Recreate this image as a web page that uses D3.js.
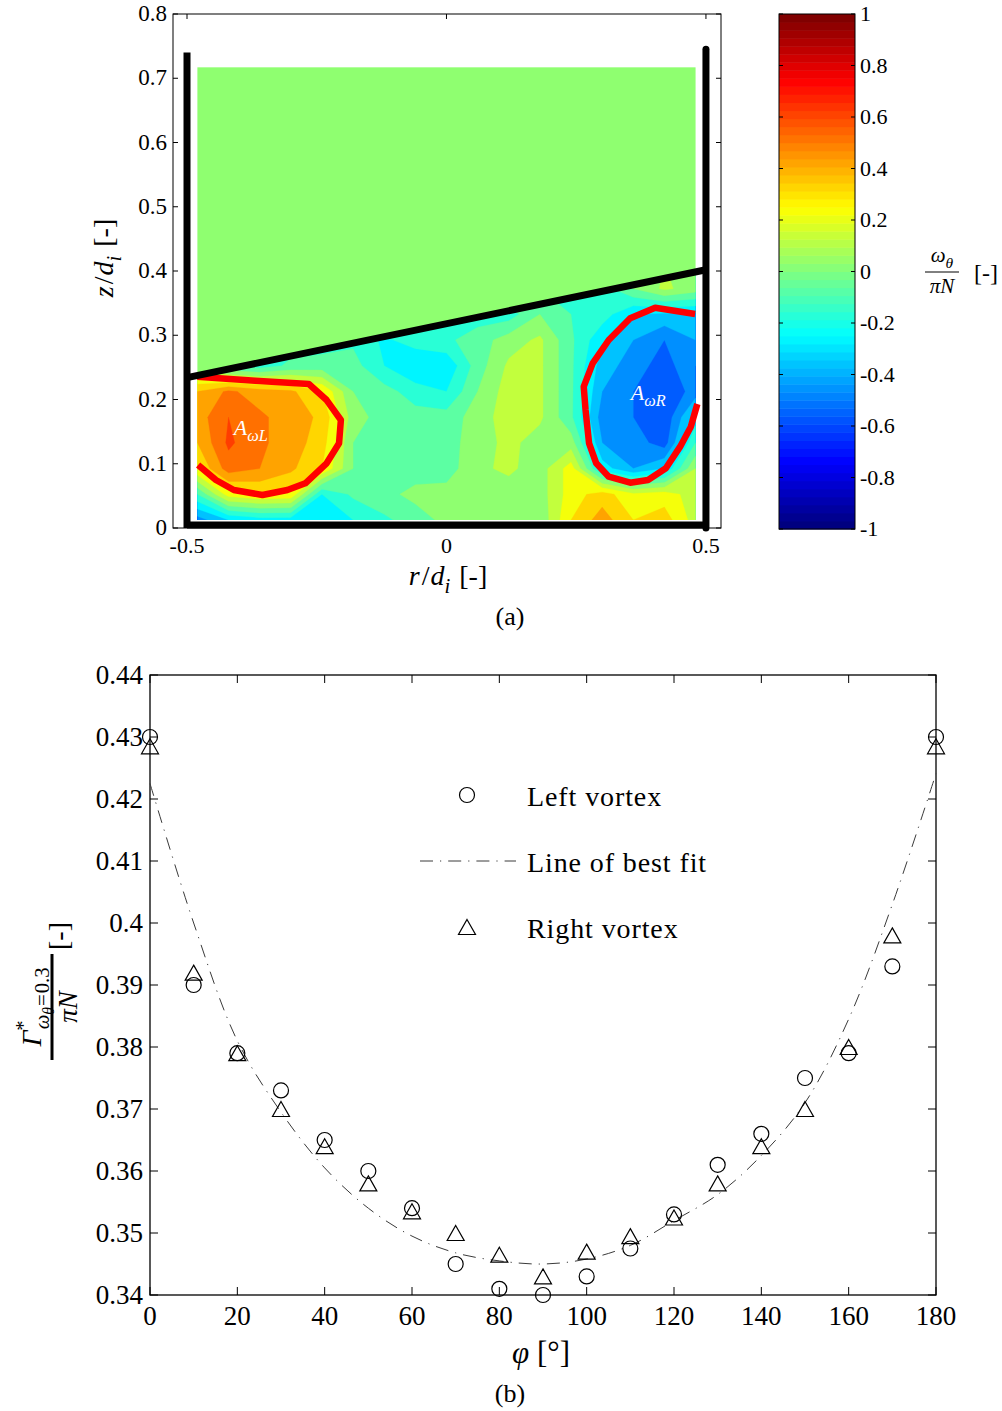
<!DOCTYPE html>
<html><head><meta charset="utf-8">
<script src="https://cdn.jsdelivr.net/npm/d3@7"></script>
<style>
body{margin:0;background:#fff}
text{font-family:"Liberation Serif","Times New Roman",serif;fill:#000}
</style>
</head><body>
<svg id="c" width="1002" height="1411"></svg>
<script>
// ================= DATA =================
// (a) vorticity field omega_theta/(pi N), rows = zGrid (bottom→top), columns = rGrid
const rGrid = [-0.48,-0.42,-0.36,-0.30,-0.24,-0.18,-0.12,-0.06,0,0.06,0.12,0.18,0.24,0.30,0.36,0.42,0.48];
const zGrid = [0.0125,0.0525,0.0925,0.1325,0.1725,0.2125,0.2525,0.2925,0.3325,0.3725,0.4125];
const vortRow0  = [-0.45,-0.3,-0.25,-0.25,-0.3,-0.2,-0.12,-0.05,0.03,0.04,0.03,0.02,0.3,0.45,0.3,0.35,0.15];
const vortRow1  = [-0.1,0.25,0.3,0.28,-0.2,-0.08,-0.03,0.03,0.04,0.04,0.05,0.05,0.25,0.35,0.22,0.25,0.15];
const vortRow2  = [0.3,0.55,0.5,0.42,0.3,0.0,-0.05,-0.05,-0.05,0.08,0.12,0.05,0.25,-0.25,-0.4,-0.3,0.1];
const vortRow3  = [0.4,0.62,0.52,0.45,0.35,0.0,-0.05,-0.06,-0.04,0.05,0.13,0.05,0.05,-0.4,-0.45,-0.55,-0.1];
const vortRow4  = [0.45,0.6,0.52,0.45,0.38,0.05,-0.05,-0.06,-0.06,0.05,0.15,0.12,-0.08,-0.45,-0.5,-0.58,-0.25];
const vortRow5  = [0.4,0.52,0.45,0.42,0.3,0.0,-0.06,-0.15,-0.2,0.0,0.15,0.12,-0.08,-0.4,-0.5,-0.6,-0.45];
const vortRow6  = [0.05,-0.12,-0.15,-0.08,-0.06,-0.06,-0.2,-0.3,-0.28,-0.05,0.12,0.12,-0.08,-0.35,-0.45,-0.55,-0.4];
const vortRow7  = [0.05,0.05,-0.1,-0.15,-0.15,-0.12,-0.22,-0.15,-0.12,-0.05,0.05,0.12,-0.08,-0.28,-0.4,-0.5,-0.4];
const vortRow8  = [0.05,0.05,0.05,0.05,0.05,0.05,0.05,-0.1,-0.15,-0.15,-0.15,0.0,-0.1,-0.15,-0.3,-0.32,-0.32];
const vortRow9  = [0.05,0.05,0.05,0.05,0.05,0.05,0.05,0.05,0.05,0.05,0.05,-0.1,-0.15,-0.15,0.0,0.12,0.05];
const vortRow10 = [0.05,0.05,0.05,0.05,0.05,0.05,0.05,0.05,0.05,0.05,0.05,0.05,0.05,0.05,0.05,0.1,0.05];
const vortRows = [vortRow0,vortRow1,vortRow2,vortRow3,vortRow4,vortRow5,vortRow6,vortRow7,vortRow8,vortRow9,vortRow10];
const levelStep = 0.1;

// field extent, tank walls, interface (r/d_i, z/d_i)
const fieldR = [-0.48, 0.48];
const fieldZ = [0.0125, 0.717];
const wallTopL = 0.74, wallTopR = 0.745;
const interfaceZ = [0.234, 0.402];   // at r=-0.5 and r=0.5

// omega = ±0.3 contours (red lines)
const leftContourR  = [-0.480,-0.3686,-0.2653,-0.231,-0.2035,-0.207,-0.231,-0.272,-0.3066,-0.3547,-0.4098,-0.4443,-0.4786];
const leftContourZ  = [0.2355,0.2293,0.2241,0.1992,0.1681,0.1318,0.1007,0.0696,0.0591,0.0514,0.0591,0.0747,0.098];
const rightContourR = [0.4792,0.4021,0.354,0.3127,0.2817,0.2645,0.268,0.2748,0.2886,0.3127,0.354,0.3884,0.4227,0.4503,0.4709,0.4834];
const rightContourZ = [0.3331,0.3429,0.3264,0.2926,0.2563,0.2199,0.1837,0.1318,0.1007,0.0798,0.0705,0.0747,0.0929,0.1266,0.1577,0.193];

const topXTicks = [-0.5, 0, 0.5];
const topYTicks = [0,0.1,0.2,0.3,0.4,0.5,0.6,0.7,0.8];
const cbTicks = [-1,-0.8,-0.6,-0.4,-0.2,0,0.2,0.4,0.6,0.8,1];

// (b) circulation vs phi
const phi = [0,10,20,30,40,50,60,70,80,90,100,110,120,130,140,150,160,170,180];
const leftVortex  = [0.430,0.390,0.379,0.373,0.365,0.360,0.354,0.345,0.341,0.340,0.343,0.3475,0.353,0.361,0.366,0.375,0.379,0.393,0.430];
const rightVortex = [0.4285,0.392,0.379,0.370,0.364,0.358,0.3535,0.350,0.3465,0.343,0.347,0.3495,0.3525,0.358,0.364,0.370,0.380,0.398,0.4285];
const bestFit     = [0.4225,0.400,0.381,0.3695,0.3605,0.354,0.3495,0.3468,0.3455,0.345,0.3458,0.348,0.352,0.3562,0.3625,0.371,0.3845,0.403,0.4241];
const bXTicks = [0,20,40,60,80,100,120,140,160,180];
const bYTicks = [0.34,0.35,0.36,0.37,0.38,0.39,0.40,0.41,0.42,0.43,0.44];
const bYTickLabels = ["0.34","0.35","0.36","0.37","0.38","0.39","0.4","0.41","0.42","0.43","0.44"];
const legendLabels = ["Left vortex","Line of best fit","Right vortex"];

// ================= HELPERS =================
const svg = d3.select('#c');
const clamp = v => Math.max(0, Math.min(1, v));
const jet = t => d3.rgb(255*clamp(1.5-Math.abs(4*t-3)), 255*clamp(1.5-Math.abs(4*t-2)), 255*clamp(1.5-Math.abs(4*t-1))).formatHex();
const cNorm = d3.scaleLinear().domain([-1,1]).range([0,1]);

function rich(g, x, y, parts, size, anchor){
  const t = g.append('text').attr('x',x).attr('y',y).attr('font-size',size).attr('text-anchor',anchor||'start');
  let cur = 0;
  parts.forEach(p=>{
    const ts = t.append('tspan').text(p.t);
    if(p.i) ts.attr('font-style','italic');
    let target = 0, fs = size;
    if(p.sub){ target = size*0.28; fs = size*0.74; }
    if(p.sup){ target = -size*0.4; fs = size*0.74; }
    if(p.sub2){ target = size*0.45; fs = size*0.56; }
    ts.attr('font-size', fs).attr('dy', target-cur);
    if(p.dx) ts.attr('dx', p.dx);
    cur = target;
  });
  return t;
}

// ================= (a) CONTOUR PLOT =================
const xT = d3.scaleLinear().domain([-0.527,0.529]).range([173,721]);
const yT = d3.scaleLinear().domain([0,0.8]).range([528,14]);
const slope = d3.scaleLinear().domain([-0.5,0.5]).range(interfaceZ);
const gA = svg.append('g');

gA.append('rect').attr('x',xT(fieldR[0])).attr('y',yT(fieldZ[1]))
  .attr('width',xT(fieldR[1])-xT(fieldR[0])).attr('height',yT(fieldZ[0])-yT(fieldZ[1]))
  .attr('fill', jet(cNorm(0.03)));

const clipPts = [[fieldR[0],fieldZ[0]],[fieldR[1],fieldZ[0]],[fieldR[1],slope(fieldR[1])],[fieldR[0],slope(fieldR[0])]];
svg.append('defs').append('clipPath').attr('id','below')
  .append('polygon').attr('points', clipPts.map(p=>[xT(p[0]),yT(p[1])].join(',')).join(' '));

const n = rGrid.length, m = zGrid.length;
const dr = rGrid[1]-rGrid[0], dz = zGrid[1]-zGrid[0];
const values = vortRows.flat();
const thresholds = d3.range(-10,10).map(i=>i*levelStep);
const contours = d3.contours().size([n,m]).thresholds(thresholds)(values);
const proj = d3.geoTransform({point:function(x,y){
  this.stream.point(xT(rGrid[0]+(x-0.5)*dr), yT(zGrid[0]+(y-0.5)*dz));
}});
const cpath = d3.geoPath(proj);
gA.append('g').attr('clip-path','url(#below)').selectAll('path').data(contours).join('path')
  .attr('d', cpath).attr('fill', d=>jet(cNorm(d.value+0.03))).attr('stroke', d=>jet(cNorm(d.value+0.03))).attr('stroke-width',0.3);

const redLine = d3.line().x(d=>xT(d[0])).y(d=>yT(d[1])).curve(d3.curveLinear);
[[leftContourR,leftContourZ],[rightContourR,rightContourZ]].forEach(([R,Z])=>{
  gA.append('path').attr('d', redLine(d3.zip(R,Z))).attr('fill','none')
    .attr('stroke','#ff0000').attr('stroke-width',6.5).attr('stroke-linejoin','round');
});

const lblL = rich(gA, xT(-0.41), yT(0.145), [{t:'A',i:true},{t:'ωL',i:true,sub:true}], 22);
lblL.style('fill','#fff'); lblL.selectAll('tspan').style('fill','#fff');
const lblR = rich(gA, xT(0.355), yT(0.2), [{t:'A',i:true},{t:'ωR',i:true,sub:true}], 22);
lblR.style('fill','#fff'); lblR.selectAll('tspan').style('fill','#fff');

gA.append('line').attr('x1',xT(-0.5)).attr('x2',xT(-0.5)).attr('y1',yT(0)).attr('y2',yT(wallTopL))
  .attr('stroke','#000').attr('stroke-width',7);
gA.append('line').attr('x1',xT(0.5)).attr('x2',xT(0.5)).attr('y1',yT(0)).attr('y2',yT(wallTopR))
  .attr('stroke','#000').attr('stroke-width',7).attr('stroke-linecap','round');
gA.append('line').attr('x1',xT(-0.5)).attr('x2',xT(0.5)).attr('y1',yT(0.0045)).attr('y2',yT(0.0045))
  .attr('stroke','#000').attr('stroke-width',7);
gA.append('line').attr('x1',xT(-0.5)).attr('x2',xT(0.5)).attr('y1',yT(slope(-0.5))).attr('y2',yT(slope(0.5)))
  .attr('stroke','#000').attr('stroke-width',7);

gA.append('rect').attr('x',173).attr('y',14).attr('width',721-173).attr('height',528-14)
  .attr('fill','none').attr('stroke','#000').attr('stroke-width',1);
topXTicks.forEach(v=>{
  gA.append('line').attr('x1',xT(v)).attr('x2',xT(v)).attr('y1',528).attr('y2',523).attr('stroke','#000');
  gA.append('line').attr('x1',xT(v)).attr('x2',xT(v)).attr('y1',14).attr('y2',19).attr('stroke','#000');
  gA.append('text').attr('x',xT(v)).attr('y',553).attr('text-anchor','middle').attr('font-size',22).text(String(v));
});
topYTicks.forEach(v=>{
  gA.append('line').attr('x1',173).attr('x2',178).attr('y1',yT(v)).attr('y2',yT(v)).attr('stroke','#000');
  gA.append('line').attr('x1',721).attr('x2',716).attr('y1',yT(v)).attr('y2',yT(v)).attr('stroke','#000');
  gA.append('text').attr('x',167).attr('y',yT(v)+7).attr('text-anchor','end').attr('font-size',23).text(String(v));
});
rich(gA, 448, 585, [{t:'r',i:true},{t:'/',dx:2},{t:'d',i:true,dx:1},{t:'i',i:true,sub:true},{t:'[-]',dx:9}], 28, 'middle');
const zl = gA.append('g').attr('transform','translate(113,258) rotate(-90)');
rich(zl, 0, 0, [{t:'z',i:true},{t:'/',dx:2},{t:'d',i:true,dx:1},{t:'i',i:true,sub:true},{t:'[-]',dx:9}], 28, 'middle');
gA.append('text').attr('x',510).attr('y',625).attr('text-anchor','middle').attr('font-size',26).text('(a)');

// colorbar
const cbY = d3.scaleLinear().domain([-1,1]).range([529,14]);
const gC = svg.append('g');
const nCol = 64;
gC.selectAll('rect.cb').data(d3.range(nCol)).join('rect').attr('class','cb')
  .attr('x',779).attr('width',76)
  .attr('y',k=>cbY(-1+2*(k+1)/nCol)).attr('height',k=>cbY(-1+2*k/nCol)-cbY(-1+2*(k+1)/nCol)+0.5)
  .attr('fill',k=>jet(k/(nCol-1)));
gC.append('rect').attr('x',779).attr('y',14).attr('width',76).attr('height',515).attr('fill','none').attr('stroke','#000');
cbTicks.forEach(v=>{
  gC.append('line').attr('x1',779).attr('x2',783).attr('y1',cbY(v)).attr('y2',cbY(v)).attr('stroke','#000');
  gC.append('line').attr('x1',855).attr('x2',851).attr('y1',cbY(v)).attr('y2',cbY(v)).attr('stroke','#000');
  gC.append('text').attr('x',860).attr('y',cbY(v)+7).attr('font-size',22).text(String(v));
});
rich(gC, 942, 262, [{t:'ω',i:true},{t:'θ',i:true,sub:true}], 21, 'middle');
gC.append('line').attr('x1',925).attr('x2',959).attr('y1',272).attr('y2',272).attr('stroke','#000').attr('stroke-width',1);
rich(gC, 942, 293, [{t:'π',i:true},{t:'N',i:true}], 21, 'middle');
gC.append('text').attr('x',974).attr('y',281).attr('font-size',24).text('[-]');

// ================= (b) SCATTER =================
const xB = d3.scaleLinear().domain([0,180]).range([150,936]);
const yB = d3.scaleLinear().domain([0.34,0.44]).range([1295,675]);
const gB = svg.append('g');

gB.append('rect').attr('x',150).attr('y',675).attr('width',786).attr('height',620).attr('fill','none').attr('stroke','#000').attr('stroke-width',1.3);
bXTicks.forEach(v=>{
  gB.append('line').attr('x1',xB(v)).attr('x2',xB(v)).attr('y1',1295).attr('y2',1287).attr('stroke','#000');
  gB.append('line').attr('x1',xB(v)).attr('x2',xB(v)).attr('y1',675).attr('y2',683).attr('stroke','#000');
  gB.append('text').attr('x',xB(v)).attr('y',1325).attr('text-anchor','middle').attr('font-size',27).text(String(v));
});
bYTicks.forEach((v,i)=>{
  gB.append('line').attr('x1',150).attr('x2',158).attr('y1',yB(v)).attr('y2',yB(v)).attr('stroke','#000');
  gB.append('line').attr('x1',936).attr('x2',928).attr('y1',yB(v)).attr('y2',yB(v)).attr('stroke','#000');
  gB.append('text').attr('x',143).attr('y',yB(v)+9).attr('text-anchor','end').attr('font-size',27).text(bYTickLabels[i]);
});

const dashes = '13,7,1.2,7';
const fitLine = d3.line().x((d,i)=>xB(phi[i])).y(d=>yB(d)).curve(d3.curveCatmullRom);
gB.append('path').attr('d',fitLine(bestFit)).attr('fill','none').attr('stroke','#3a3a3a')
  .attr('stroke-width',1).attr('stroke-dasharray',dashes);

const triPath = 'M0,-7.5L8.5,7.5L-8.5,7.5Z';
gB.selectAll('circle.lv').data(leftVortex).join('circle').attr('class','lv')
  .attr('cx',(d,i)=>xB(phi[i])).attr('cy',d=>yB(d)).attr('r',7.5)
  .attr('fill','none').attr('stroke','#000').attr('stroke-width',1.2);
gB.selectAll('path.rv').data(rightVortex).join('path').attr('class','rv')
  .attr('transform',(d,i)=>`translate(${xB(phi[i])},${yB(d)})`).attr('d',triPath)
  .attr('fill','none').attr('stroke','#000').attr('stroke-width',1.2);

// legend
gB.append('circle').attr('cx',467).attr('cy',795).attr('r',7.5).attr('fill','none').attr('stroke','#000').attr('stroke-width',1.2);
gB.append('line').attr('x1',420).attr('x2',516).attr('y1',861).attr('y2',861).attr('stroke','#3a3a3a').attr('stroke-width',1).attr('stroke-dasharray',dashes);
gB.append('path').attr('transform','translate(467,927)').attr('d',triPath).attr('fill','none').attr('stroke','#000').attr('stroke-width',1.2);
[806,872,938].forEach((y,i)=>gB.append('text').attr('x',527).attr('y',y).attr('font-size',28).attr('letter-spacing',0.9).text(legendLabels[i]));

// axis labels
rich(gB, 541, 1363, [{t:'φ',i:true},{t:'[°]',dx:8}], 31, 'middle');
gB.append('text').attr('x',510).attr('y',1402).attr('text-anchor','middle').attr('font-size',26).text('(b)');
const yl = gB.append('g').attr('transform','translate(52,1007) rotate(-90)');
rich(yl, 0, -11, [{t:'Γ',i:true},{t:'*',sup:true},{t:'ω',i:true,sub:true,dx:-9},{t:'θ',i:true,sub2:true},{t:'=',sub:true,dx:1},{t:'0.3',sub:true,dx:1}], 28, 'middle');
yl.append('line').attr('x1',-53).attr('x2',53).attr('y1',0).attr('y2',0).attr('stroke','#000').attr('stroke-width',3);
rich(yl, 0, 25, [{t:'π',i:true},{t:'N',i:true}], 27, 'middle');
yl.append('text').attr('x',57).attr('y',16).attr('font-size',28).text('[-]');
</script>
</body></html>
